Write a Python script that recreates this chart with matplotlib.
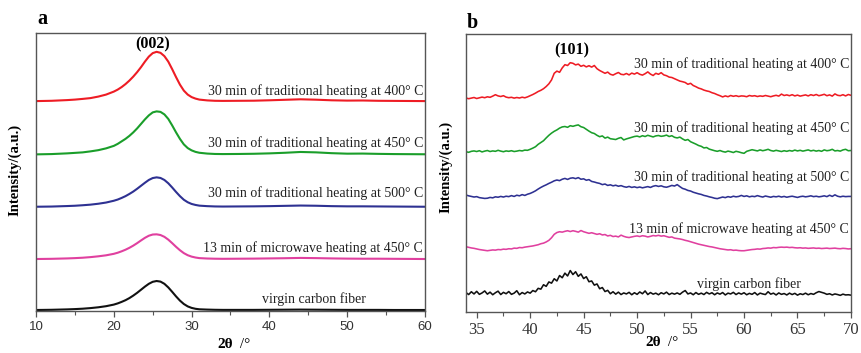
import numpy as np
import matplotlib
matplotlib.use("Agg")
import matplotlib.pyplot as plt
from matplotlib.ticker import MultipleLocator

SERIF = ["Liberation Serif", "DejaVu Serif"]
SANS = ["Liberation Sans", "DejaVu Sans"]

labels = [
    "30 min of traditional heating at 400\u00b0 C",
    "30 min of traditional heating at 450\u00b0 C",
    "30 min of traditional heating at 500\u00b0 C",
    "13 min of microwave heating at 450\u00b0 C",
    "virgin carbon fiber",
]
colors = ["#ee1c24", "#1a9e2a", "#2e3192", "#e0409f", "#111111"]

# ---------------- panel a: (002) region ----------------
two_theta_a = [10, 12, 14, 15, 16, 17, 18, 19,
               20, 20.5, 21, 21.5, 22, 22.5, 23, 23.5, 24, 24.5, 25, 25.5,
               26, 26.5, 27, 27.5, 28, 28.5, 29, 29.5, 30, 30.5, 31,
               32, 33, 34,
               36, 38, 40, 42, 44, 46, 48, 50, 52, 54, 56, 58, 60]

a_400 = [0, 0.3, 1, 1.5, 2.2, 3, 4.5, 6.5,
         9.5, 11.5, 14, 17, 20.5, 24.5, 29, 34, 39.5, 44.5, 48, 49.3,
         48.3, 45, 39.5, 32, 24, 16.5, 10.5, 6.5, 4, 2.5, 1.5,
         0.7, 0.3, 0.2,
         0.3, 0.4, 0.8, 1.3, 1.8, 1.4, 0.8, 0.5, 0.6, 0.3, 0.2, 0.1, 0]
a_450 = [0, 0.3, 1, 1.5, 2, 3, 4.2, 6,
         8.5, 10.5, 13, 15.5, 18.5, 22, 26, 30.5, 35, 39, 42, 43,
         42.5, 40, 35.5, 29, 22, 15.5, 10, 6.3, 4, 2.5, 1.6,
         0.8, 0.4, 0.3,
         0.4, 0.6, 1, 1.6, 2.4, 2.0, 1.2, 0.7, 0.8, 0.5, 0.3, 0.2, 0.1]
a_500 = [0, 0.2, 0.7, 1, 1.5, 2.1, 3, 4.2,
         6, 7.2, 8.8, 10.6, 12.8, 15.2, 18, 21, 24, 26.8, 28.7, 29.4,
         28.8, 26.8, 23.5, 19.3, 14.8, 10.6, 7, 4.5, 2.8, 1.8, 1.1,
         0.6, 0.3, 0.2,
         0.3, 0.4, 0.6, 0.9, 1.2, 1.0, 0.6, 0.4, 0.4, 0.3, 0.2, 0.1, 0]
a_mw = [0, 0.2, 0.6, 0.9, 1.3, 1.9, 2.7, 3.7,
        5.2, 6.3, 7.7, 9.3, 11.2, 13.4, 15.9, 18.6, 21.2, 23.3, 24.5, 24.7,
        24, 22.2, 19.4, 15.9, 12.2, 8.8, 5.9, 3.8, 2.4, 1.5, 0.9,
        0.5, 0.3, 0.2,
        0.3, 0.4, 0.6, 0.8, 1.1, 0.9, 0.6, 0.4, 0.3, 0.3, 0.2, 0.1, 0]
a_virgin = [0, 0.2, 0.6, 0.9, 1.3, 1.9, 2.7, 3.8,
            5.4, 6.6, 8.1, 9.8, 11.9, 14.4, 17.2, 20.3, 23.4, 26.2, 28.2, 29,
            28.4, 26.2, 22.6, 18.2, 13.6, 9.4, 6, 3.6, 2.1, 1.2, 0.7,
            0.4, 0.2, 0.1,
            0.1, 0.1, 0.2, 0.3, 0.4, 0.3, 0.2, 0.1, 0.1, 0.1, 0, 0, 0]
offsets_a = [210, 156.7, 104.3, 52, 1]

# ---------------- panel b: (101) region ----------------
two_theta_b = np.linspace(34, 70, 145)

b_400 = [0.3, -0.4, 0.2, 0.8, -0.2, 0.5, 1.2, 0.6,
         1.5, 1.0, 2.2, 3.6, 2.4, 1.8, 2.6, 1.2,
         0.6, 1.0, 0.2, 0.8, 0.3, 1.1, 0.5, 1.4,
         2.6, 3.8, 5.2, 6.8, 8.0, 9.6, 11.8, 14.5,
         18.4, 25.0, 27.2, 26.0, 30.4, 33.6, 32.8, 35.6,
         35.0, 33.4, 34.2, 32.0, 33.0, 31.4, 32.6, 31.2,
         32.8, 29.6, 27.8, 26.4, 25.0, 26.2, 24.0, 23.2,
         24.6, 25.8, 24.0, 23.6, 24.8, 23.4, 25.2, 24.2,
         25.6, 24.0, 23.2, 24.6, 26.4, 24.2, 22.8, 25.0,
         24.0, 25.6, 23.4, 22.6, 21.2, 20.8, 19.6, 18.4,
         17.2, 16.6, 15.8, 14.0, 15.0, 12.8, 11.6, 10.2,
         9.4, 8.2, 7.4, 6.8, 5.6, 4.8, 3.6, 2.6,
         1.4, 2.4, 1.6, 2.8, 2.0, 2.6, 1.8, 2.4,
         2.2, 1.6, 2.8, 2.2, 2.6, 1.8, 2.4, 2.0,
         2.8, 2.2, 1.6, 2.4, 3.0, 2.2, 4.2, 2.8,
         3.4, 2.6, 3.6, 2.4, 3.2, 2.2, 2.8, 3.4,
         2.4, 3.6, 2.8, 3.8, 2.6, 3.2, 4.0, 2.6,
         3.4, 2.2, 4.4, 3.0, 2.6, 3.6, 2.4, 3.8,
         3.0]
b_450 = [0.0, -0.6, 0.4, 0.8, 0.2, 1.0, -0.2, 0.6,
         1.2, 0.2, 0.8, 0.4, 1.4, 0.6, 0.0, 0.8,
         0.4, 1.0, 0.2, 0.6, 1.2, 0.8, 1.6, 1.4,
         2.4, 3.6, 5.0, 7.4, 9.2, 11.0, 13.8, 16.4,
         18.6, 20.4, 21.8, 23.6, 24.8, 25.2, 24.4, 26.0,
         25.4, 26.2, 26.8, 25.0, 24.2, 22.4, 20.6, 19.0,
         18.2, 16.4, 15.0, 15.8, 13.6, 14.6, 13.0, 12.6,
         12.2, 13.4, 14.2, 11.8, 12.8, 13.6, 14.4, 15.2,
         15.6, 14.8, 16.0, 15.2, 16.4, 15.6, 14.8, 15.8,
         16.2, 15.4, 15.8, 16.6, 15.2, 16.0, 14.4, 13.8,
         14.6, 12.8, 11.4, 12.2, 10.0, 8.8, 7.6, 6.2,
         5.4, 3.8, 4.2, 2.6, 1.8, 1.0, 0.4, 1.2,
         0.2, -0.4, 0.6, 0.0, -0.8, 0.4, -0.2, -1.0,
         -1.6, 0.4, 1.2, 2.0, 1.4, 0.8, 1.8, 1.0,
         1.6, 2.4, 1.2, 0.6, 1.4, 0.8, 0.2, 1.0,
         0.4, 1.2, 0.6, 1.6, 0.8, 1.4, 0.6, 1.2,
         1.8, 0.8, 1.4, 0.6, 1.2, 0.4, 1.8, 1.0,
         1.4, 2.4, 0.8, 1.2, 0.6, 1.8, 2.4, 1.0,
         1.2]
b_500 = [1.0, 0.2, -0.4, -1.0, -0.6, -1.6, -2.0, -2.4,
         -2.2, -1.4, -1.8, -0.8, -1.2, -0.4, -1.0, -0.2,
         -0.6, 0.4, -0.4, 0.8, 0.2, 1.4, 0.6, 1.8,
         2.6, 3.8, 5.2, 7.0, 8.6, 10.0, 11.2, 12.6,
         13.8, 15.2, 16.0, 15.4, 16.8, 17.6, 16.6, 17.8,
         18.2, 17.4, 18.4, 16.8, 17.2, 15.8, 16.4, 14.6,
         14.0, 13.2, 12.6, 11.4, 12.0, 10.6, 11.2, 10.2,
         10.8, 9.8, 10.4, 9.4, 8.8, 9.6, 8.6, 9.2,
         8.4, 9.0, 8.2, 8.8, 9.4, 8.6, 9.8, 10.4,
         9.6, 10.2, 9.2, 8.8, 9.6, 10.6, 10.0, 11.4,
         9.4, 7.6, 6.8, 5.6, 5.0, 3.8, 3.0, 2.2,
         1.6, 0.6, 0.0, -0.8, -1.4, -2.2, -2.6, -1.8,
         -1.0, -1.6, -0.6, -1.2, -0.2, -0.8, -0.4, 0.6,
         -0.4, 0.2, -0.8, -0.2, -0.6, 0.4, -0.4, -1.0,
         0.0, -0.6, -1.2, -0.4, -0.8, -0.2, -1.0, -0.4,
         -1.2, -0.6, -0.2, -0.8, -1.4, -0.6, -0.2, -0.8,
         -0.4, 0.2, -0.6, -0.2, -0.8, -0.4, 0.2, -0.6,
         0.8, -0.4, 1.2, -0.2, -0.8, -0.2, -0.6, -0.4,
         -0.4]
b_mw = [0.0, -0.6, -1.2, -1.6, -2.2, -2.8, -3.2, -3.6,
        -4.0, -3.6, -3.2, -3.4, -2.8, -3.0, -2.4, -2.6,
        -2.0, -2.2, -1.4, -1.6, -0.8, -1.0, -0.4, 0.0,
        0.4, 0.8, 1.4, 2.0, 3.0, 3.6, 4.8, 6.4,
        9.0, 12.4, 14.2, 15.0, 14.6, 15.4, 16.0, 15.2,
        16.0, 15.4, 14.6, 16.2, 15.0, 14.2, 13.4, 14.0,
        13.2, 12.4, 13.0, 11.8, 12.2, 10.8, 11.4, 10.2,
        10.6, 9.8, 11.6, 10.4, 9.6, 9.2, 9.8, 10.4,
        10.8, 10.2, 11.0, 10.6, 9.8, 10.4, 11.2, 10.8,
        11.4, 10.6, 11.0, 10.2, 9.4, 9.8, 8.6, 8.2,
        7.8, 7.2, 6.4, 5.8, 5.0, 4.2, 3.4, 2.6,
        2.0, 1.4, 0.8, 0.2, -0.2, -0.8, -1.4, -2.0,
        -2.4, -2.8, -3.2, -3.0, -3.6, -3.4, -3.8, -4.0,
        -4.0, -3.6, -3.2, -2.8, -2.6, -2.2, -2.4, -1.8,
        -1.6, -1.2, -1.4, -0.8, -1.0, -0.6, -0.4, -0.6,
        -0.4, -0.8, -0.6, -1.0, -1.2, -1.0, -1.4, -1.2,
        -1.6, -1.4, -1.2, -1.6, -1.4, -1.8, -1.6, -1.4,
        -1.8, -1.6, -1.4, -1.8, -2.0, -1.6, -1.8, -2.2,
        -2.0]
b_virgin = [0.8, -1.2, 1.6, -0.6, 2.0, -1.0, 0.4, 2.4,
            -0.8, 1.2, -1.4, 0.6, 2.2, -1.2, 1.0, -0.4,
            1.8, -1.0, 0.2, 2.6, -1.4, 0.8, -0.6, 1.4,
            0.2, 2.8, 1.6, 5.0, 4.2, 8.6, 7.0, 11.4,
            10.2, 14.6, 12.4, 17.8, 15.6, 20.2, 17.4, 22.8,
            18.8, 21.6, 17.0, 19.4, 14.8, 16.6, 11.6, 12.4,
            8.2, 9.4, 4.6, 5.8, 1.8, 3.0, -0.4, 1.6,
            -0.8, 1.2, -1.2, 0.4, -0.6, 1.0, -1.4, 0.6,
            -1.0, 1.4, -0.4, 2.4, -1.2, 0.8, -0.8, 0.2,
            -1.4, 0.6, -0.6, 1.2, -1.2, 0.2, -0.8, 0.4,
            -1.0, 1.2, 2.8, -0.6, 0.4, -1.4, 0.8, -1.0,
            0.2, -1.2, 1.0, -0.6, 0.6, -1.4, 0.4, -0.8,
            0.8, -1.6, 0.2, -0.6, 1.0, -1.2, 0.4, -0.8,
            0.6, -1.4, 0.0, -1.0, 0.8, -1.6, 0.2, -0.6,
            -1.2, 1.6, -0.8, 0.2, -1.6, 0.4, -1.0, -0.2,
            -1.6, 0.2, -1.2, 0.0, -1.8, -0.4, -1.2, 0.2,
            -1.4, -0.2, -1.0, 0.6, 1.8, 1.0, 0.2, -1.0,
            -0.4, -1.6, -0.6, -1.2, -2.0, -0.8, -1.6, -1.4,
            -1.8]
offsets_b = [213.7, 160.3, 116, 65.3, 18.7]

series_a = [a_400, a_450, a_500, a_mw, a_virgin]
series_b = [b_400, b_450, b_500, b_mw, b_virgin]

fig = plt.figure(figsize=(8.62, 3.53), dpi=100)
ax_a = fig.add_axes([0.0418, 0.119, 0.4512, 0.788])
ax_b = fig.add_axes([0.5406, 0.116, 0.4466, 0.7877])

frame = "#555555"
for ax in (ax_a, ax_b):
    for sp in ax.spines.values():
        sp.set_color(frame)
        sp.set_linewidth(1.0)
    ax.set_yticks([])
    ax.tick_params(axis="x", which="major", direction="out", length=4,
                   width=0.9, color=frame, pad=3, labelcolor="#333333")
    ax.tick_params(axis="x", which="minor", direction="out", length=3,
                   width=0.8, color=frame)

# panel a
for y, off, c in zip(series_a, offsets_a, colors):
    ax_a.plot(two_theta_a, np.asarray(y) + off, color=c, lw=1.5)
ax_a.set_xlim(10, 60)
ax_a.set_ylim(0, 278.3)
ax_a.xaxis.set_major_locator(MultipleLocator(10))
ax_a.xaxis.set_minor_locator(MultipleLocator(5))

text_y_a = [0.79, 0.602, 0.422, 0.227]
for lab, ty in zip(labels[:4], text_y_a):
    ax_a.text(0.995, ty, lab, transform=ax_a.transAxes, ha="right",
              va="center", family=SERIF, fontsize=10, color="#222222")
ax_a.text(0.715, 0.042, labels[4], transform=ax_a.transAxes, ha="center",
          va="center", family=SERIF, fontsize=10, color="#222222")
ax_a.text(0.3, 0.96, "(002)", transform=ax_a.transAxes, ha="center",
          va="center", family=SERIF, fontsize=11.5, fontweight="bold")

# panel b
for y, off, c in zip(series_b, offsets_b, colors):
    ax_b.plot(two_theta_b, np.asarray(y) + off, color=c, lw=1.15)
ax_b.set_xlim(34, 70)
ax_b.set_ylim(0, 278)
ax_b.xaxis.set_minor_locator(MultipleLocator(2.5))
ax_b.set_xticks([35, 40, 45, 50, 55, 60, 65, 70])

text_y_b = [0.893, 0.663, 0.486, 0.299]
for lab, ty in zip(labels[:4], text_y_b):
    ax_b.text(0.995, ty, lab, transform=ax_b.transAxes, ha="right",
              va="center", family=SERIF, fontsize=10, color="#222222")
ax_b.text(0.736, 0.102, labels[4], transform=ax_b.transAxes, ha="center",
          va="center", family=SERIF, fontsize=10, color="#222222")
ax_b.text(0.275, 0.94, "(101)", transform=ax_b.transAxes, ha="center",
          va="center", family=SERIF, fontsize=11.5, fontweight="bold")

# panel letters and axis titles
fig.text(37 / 862, 1 - 19 / 353, "a", ha="left", va="center", family=SERIF,
         fontsize=14.5, fontweight="bold")
fig.text(467 / 862, 1 - 22.5 / 353, "b", ha="left", va="center", family=SERIF,
         fontsize=14.5, fontweight="bold")

for xc, yc in ((15 / 862, 1 - 170 / 353), (446 / 862, 1 - 167 / 353)):
    fig.text(xc, yc, "Intensity/(a.u.)", rotation=90, ha="center",
             va="center", family=SERIF, fontsize=10.5, fontweight="bold")

for xc, yc in ((233 / 862, 1 - 345 / 353), (661 / 862, 1 - 343 / 353)):
    fig.text(xc, yc, "2\u03b8", ha="right", va="center", family=SERIF,
             fontsize=11, fontweight="bold")
    fig.text(xc + 3 / 862, yc, " /\u00b0", ha="left", va="center",
             family=SERIF, fontsize=11)

# tick label fonts: sans for panel a, serif for panel b
fig.canvas.draw()
for lab in ax_a.get_xticklabels():
    lab.set_fontfamily(SANS)
    lab.set_fontsize(9.5)
for lab in ax_b.get_xticklabels():
    lab.set_fontfamily(SERIF)
    lab.set_fontsize(12)

fig.savefig("out.png", dpi=100)
